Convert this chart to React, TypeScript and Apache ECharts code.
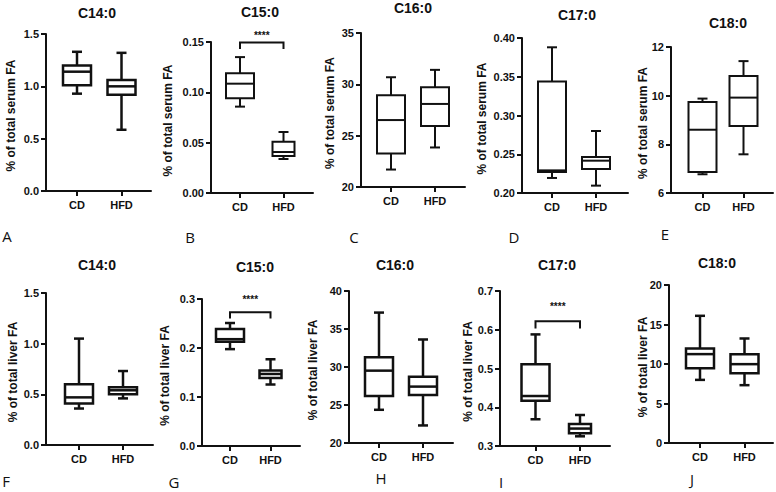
import React, { useEffect, useRef } from 'react';
import * as echarts from 'echarts';

const categories = ['CD', 'HFD'];
const panelTitles = ['C14:0', 'C15:0', 'C16:0', 'C17:0', 'C18:0', 'C14:0', 'C15:0', 'C16:0', 'C17:0', 'C18:0'];
const panelLetters = ['A', 'B', 'C', 'D', 'E', 'F', 'G', 'H', 'I', 'J'];
const yTitles = [
  '% of total serum FA', '% of total serum FA', '% of total serum FA', '% of total serum FA', '% of total serum FA',
  '% of total liver FA', '% of total liver FA', '% of total liver FA', '% of total liver FA', '% of total liver FA',
];

// box values: [min, Q1, median, Q3, max] for CD then HFD
const serumC14 = [[0.93, 1.01, 1.14, 1.2, 1.33], [0.585, 0.92, 1.0, 1.06, 1.32]];
const serumC15 = [[0.0858, 0.094, 0.1086, 0.119, 0.135], [0.0338, 0.0368, 0.0407, 0.051, 0.0606]];
const serumC16 = [[21.7, 23.26, 26.52, 28.93, 30.69], [23.85, 25.93, 28.09, 29.72, 31.41]];
const serumC17 = [[0.2194, 0.2271, 0.2292, 0.344, 0.388], [0.2095, 0.231, 0.2417, 0.2465, 0.28]];
const serumC18 = [[6.77, 6.86, 8.6, 9.74, 9.88], [7.59, 8.75, 9.92, 10.81, 11.42]];
const liverC14 = [[0.36, 0.41, 0.47, 0.6, 1.05], [0.46, 0.5, 0.54, 0.57, 0.73]];
const liverC15 = [[0.1977, 0.2127, 0.218, 0.2386, 0.251], [0.1255, 0.139, 0.147, 0.154, 0.177]];
const liverC16 = [[24.37, 26.2, 29.52, 31.27, 37.16], [22.31, 26.33, 27.42, 28.73, 33.62]];
const liverC17 = [[0.369, 0.417, 0.429, 0.511, 0.588], [0.325, 0.333, 0.345, 0.357, 0.38]];
const liverC18 = [[7.99, 9.47, 11.25, 11.97, 16.1], [7.32, 8.84, 9.98, 11.25, 13.23]];
const panelData = [serumC14, serumC15, serumC16, serumC17, serumC18, liverC14, liverC15, liverC16, liverC17, liverC18];

// y axis ticks
const yMin = [0, 0, 20, 0.2, 6, 0, 0, 20, 0.3, 0];
const yMax = [1.5, 0.15, 35, 0.4, 12, 1.5, 0.3, 40, 0.7, 20];
const yStep = [0.5, 0.05, 5, 0.05, 2, 0.5, 0.1, 5, 0.1, 5];
const yDecimals = [1, 2, 0, 2, 0, 1, 1, 0, 1, 0];

// significance brackets
const sigPanels = [1, 6, 8];
const sigBracketY = [0.1495, 0.273, 0.622];
const sigDropY = [0.143, 0.26, 0.603];
const sigStarY = [0.1567, 0.2986, 0.659];
const sigLabel = '****';

// layout (pixels)
const layout = [
  { ax: 46, top: 34, bottom: 191, cd: 77, hfd: 121.5, right: 151, hfdW: 28, lw: 2.5, tx: 97, ty: 13, lx: 7, ly: 236, nx: 11 },
  { ax: 211, top: 42, bottom: 193, cd: 240, hfd: 283.5, right: 313, hfdW: 22, lw: 2, tx: 260, ty: 12, lx: 190, ly: 237, nx: 168 },
  { ax: 361, top: 33, bottom: 187, cd: 391, hfd: 435, right: 465, hfdW: 28, lw: 2, tx: 413, ty: 8, lx: 354, ly: 237, nx: 330 },
  { ax: 522, top: 38, bottom: 193, cd: 552, hfd: 596, right: 628, hfdW: 28, lw: 2, tx: 577, ty: 15, lx: 514, ly: 237, nx: 482 },
  { ax: 671, top: 47, bottom: 193, cd: 702.5, hfd: 743.5, right: 773, hfdW: 28, lw: 2, tx: 728, ty: 23, lx: 665, ly: 234, nx: 643 },
  { ax: 46, top: 293, bottom: 445, cd: 79, hfd: 123, right: 153, hfdW: 28, lw: 2.5, tx: 97, ty: 265, lx: 6, ly: 481, nx: 13 },
  { ax: 202, top: 299, bottom: 446, cd: 230, hfd: 270.5, right: 300, hfdW: 22, lw: 2.5, tx: 255, ty: 267, lx: 174, ly: 482, nx: 165 },
  { ax: 349, top: 291, bottom: 443, cd: 379, hfd: 423, right: 453, hfdW: 28, lw: 2.5, tx: 395, ty: 265, lx: 381, ly: 478, nx: 313 },
  { ax: 500, top: 291, bottom: 446, cd: 535.5, hfd: 580, right: 610, hfdW: 22, lw: 2.5, tx: 557, ty: 265, lx: 501, ly: 482, nx: 468 },
  { ax: 669, top: 285, bottom: 443, cd: 700, hfd: 744.5, right: 773, hfdW: 28, lw: 2.5, tx: 717, ty: 263, lx: 692, ly: 479, nx: 643 },
];

const FONT = 'Liberation Sans, Arial, sans-serif';
const LETTER_FONT = 'Open Sans, Noto Sans, sans-serif';
const INK = '#111';

function boxRenderer(widths: number[], lw: number) {
  return (params: any, api: any) => {
    const idx = api.value(0);
    const pMin = api.coord([idx, api.value(1)]);
    const pQ1 = api.coord([idx, api.value(2)]);
    const pMed = api.coord([idx, api.value(3)]);
    const pQ3 = api.coord([idx, api.value(4)]);
    const pMax = api.coord([idx, api.value(5)]);
    const cx = pMed[0];
    const half = widths[idx] / 2;
    const cap = 5;
    const style = { stroke: INK, lineWidth: lw, fill: 'none' };
    return {
      type: 'group',
      children: [
        { type: 'line', shape: { x1: cx, y1: pQ3[1], x2: cx, y2: pMax[1] }, style },
        { type: 'line', shape: { x1: cx, y1: pQ1[1], x2: cx, y2: pMin[1] }, style },
        { type: 'line', shape: { x1: cx - cap, y1: pMax[1], x2: cx + cap, y2: pMax[1] }, style },
        { type: 'line', shape: { x1: cx - cap, y1: pMin[1], x2: cx + cap, y2: pMin[1] }, style },
        {
          type: 'rect',
          shape: { x: cx - half, y: pQ3[1], width: half * 2, height: pQ1[1] - pQ3[1] },
          style: { stroke: INK, lineWidth: lw, fill: '#fff' },
        },
        { type: 'line', shape: { x1: cx - half, y1: pMed[1], x2: cx + half, y2: pMed[1] }, style },
      ],
    };
  };
}

function bracketRenderer(lw: number) {
  return (params: any, api: any) => {
    const a = api.coord([api.value(0), api.value(2)]);
    const b = api.coord([api.value(1), api.value(2)]);
    const aDrop = api.coord([api.value(0), api.value(3)]);
    const star = api.coord([(api.value(0) + api.value(1)) / 2, api.value(4)]);
    return {
      type: 'group',
      children: [
        {
          type: 'polyline',
          shape: { points: [[a[0], aDrop[1]], a, b, [b[0], aDrop[1]]] },
          style: { stroke: INK, lineWidth: lw, fill: 'none' },
        },
        {
          type: 'text',
          x: star[0],
          y: star[1],
          style: { text: sigLabel, fill: INK, fontSize: 10, fontWeight: 'bold', fontFamily: FONT, align: 'center', verticalAlign: 'middle' },
        },
      ],
    };
  };
}

function buildOption() {
  const grid: any[] = [];
  const xAxis: any[] = [];
  const yAxis: any[] = [];
  const series: any[] = [];
  const graphic: any[] = [];

  layout.forEach((L, i) => {
    const span = L.hfd - L.cd;
    grid.push({ left: L.ax, top: L.top, width: L.right - L.ax, height: L.bottom - L.top, containLabel: false });
    xAxis.push({
      type: 'value',
      gridIndex: i,
      min: -(L.cd - L.ax) / span,
      max: 1 + (L.right - L.hfd) / span,
      splitLine: { show: false },
      axisLine: { show: true, onZero: false, lineStyle: { color: INK, width: 2 } },
      axisTick: { show: true, customValues: [0, 1], length: 5, lineStyle: { color: INK, width: 2 } },
      axisLabel: {
        show: true,
        customValues: [0, 1],
        formatter: (v: number) => categories[Math.round(v)] ?? '',
        color: INK,
        fontSize: 11,
        fontWeight: 'bold',
        fontFamily: FONT,
        margin: 8,
      },
    });
    yAxis.push({
      type: 'value',
      gridIndex: i,
      min: yMin[i],
      max: yMax[i],
      interval: yStep[i],
      splitLine: { show: false },
      axisLine: { show: true, onZero: false, lineStyle: { color: INK, width: 2 } },
      axisTick: { show: true, length: 5, lineStyle: { color: INK, width: 2 } },
      axisLabel: {
        color: INK,
        fontSize: 11,
        fontWeight: 'bold',
        fontFamily: FONT,
        margin: 7,
        formatter: (v: number) => v.toFixed(yDecimals[i]),
      },
    });
    const d = panelData[i];
    series.push({
      type: 'custom',
      xAxisIndex: i,
      yAxisIndex: i,
      renderItem: boxRenderer([28, L.hfdW], L.lw),
      encode: { x: 0, y: [1, 2, 3, 4, 5] },
      data: d.map((v, k) => [k, ...v]),
      z: 3,
    });
    const s = sigPanels.indexOf(i);
    if (s >= 0) {
      series.push({
        type: 'custom',
        xAxisIndex: i,
        yAxisIndex: i,
        renderItem: bracketRenderer(2),
        encode: { x: [0, 1], y: [2, 3, 4] },
        data: [[0, 1, sigBracketY[s], sigDropY[s], sigStarY[s]]],
        z: 4,
      });
    }
    graphic.push({
      type: 'text',
      x: L.tx,
      y: L.ty,
      style: { text: panelTitles[i], fill: INK, fontSize: 14, fontWeight: 'bold', fontFamily: FONT, align: 'center', verticalAlign: 'middle' },
    });
    graphic.push({
      type: 'text',
      x: L.lx,
      y: L.ly,
      style: { text: panelLetters[i], fill: INK, fontSize: 15, fontFamily: LETTER_FONT, align: 'center', verticalAlign: 'middle' },
    });
    graphic.push({
      type: 'text',
      x: L.nx,
      y: (L.top + L.bottom) / 2 + 3,
      rotation: Math.PI / 2,
      style: { text: yTitles[i], fill: INK, fontSize: 12, fontWeight: 'bold', fontFamily: FONT, align: 'center', verticalAlign: 'middle' },
    });
  });

  return {
    animation: false,
    backgroundColor: '#fff',
    grid,
    xAxis,
    yAxis,
    series,
    graphic,
  };
}

export default function App() {
  const ref = useRef<HTMLDivElement>(null);
  useEffect(() => {
    if (!ref.current) return;
    const chart = echarts.init(ref.current, undefined, { renderer: 'svg' });
    chart.setOption(buildOption() as any);
    return () => chart.dispose();
  }, []);
  return <div ref={ref} style={{ position: 'absolute', left: 0, top: 0, width: 776, height: 492 }} />;
}
